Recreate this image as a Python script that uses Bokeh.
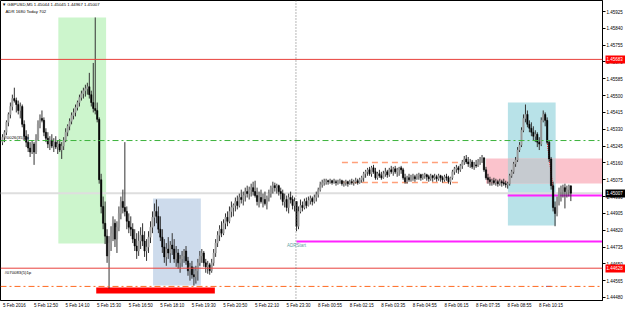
from bokeh.plotting import figure
from bokeh.models import Range1d, LinearAxis, FixedTicker, Label, Span, NumeralTickFormatter, ColumnDataSource
from bokeh.embed import file_html
from bokeh.resources import INLINE

# ---------------- data (GBPUSD M5, bar index 0 = 5 Feb 11:30) ----------------
first_open = 1.45265
highs = [
 1.45305, 1.45325, 1.45375, 1.45415, 1.45465, 1.45505, 1.45540, 1.45490, 1.45475, 1.45465,
 1.45455, 1.45375, 1.45325, 1.45305, 1.45265, 1.45275, 1.45265, 1.45305, 1.45375, 1.45405,
 1.45425, 1.45390, 1.45335, 1.45315, 1.45295, 1.45305, 1.45285, 1.45295, 1.45275, 1.45280,
 1.45265, 1.45290, 1.45335, 1.45355, 1.45385, 1.45415, 1.45435, 1.45455, 1.45475, 1.45505,
 1.45525, 1.45540, 1.45555, 1.45565, 1.45615, 1.45525, 1.45665, 1.45895, 1.45465, 1.45390,
 1.45105, 1.44990, 1.44965, 1.44825, 1.44790, 1.44840, 1.44890, 1.44875, 1.44865, 1.44940,
 1.44990, 1.45025, 1.45265, 1.44940, 1.44905, 1.44890, 1.44855, 1.44825, 1.44805, 1.44815,
 1.44835, 1.44855, 1.44815, 1.44775, 1.44815, 1.44865, 1.44915, 1.44955, 1.44975, 1.44940,
 1.44890, 1.44825, 1.44775, 1.44755, 1.44785, 1.44765, 1.44805, 1.44775, 1.44740, 1.44725,
 1.44695, 1.44715, 1.44725, 1.44740, 1.44685, 1.44655, 1.44665, 1.44635, 1.44640, 1.44675,
 1.44715, 1.44725, 1.44715, 1.44675, 1.44665, 1.44655, 1.44675, 1.44725, 1.44775, 1.44815,
 1.44845, 1.44865, 1.44875, 1.44905, 1.44915, 1.44940, 1.44965, 1.44955, 1.44985, 1.44995,
 1.45005, 1.45025, 1.45015, 1.45035, 1.45045, 1.45040, 1.45055, 1.45065, 1.45070, 1.45035,
 1.45015, 1.45025, 1.45005, 1.45015, 1.44995, 1.45025, 1.45045, 1.45065, 1.45060, 1.45055,
 1.45050, 1.45035, 1.45025, 1.45005, 1.44995, 1.45005, 1.45015, 1.44995, 1.44985, 1.44965,
 1.44940, 1.44975, 1.44965, 1.44980, 1.44985, 1.44990, 1.44995, 1.44990, 1.45000, 1.45015,
 1.45035, 1.45065, 1.45075, 1.45080, 1.45080, 1.45075, 1.45080, 1.45075, 1.45080, 1.45075,
 1.45075, 1.45080, 1.45075, 1.45070, 1.45075, 1.45070, 1.45075, 1.45080, 1.45075, 1.45085,
 1.45080, 1.45085, 1.45095, 1.45115, 1.45125, 1.45135, 1.45140, 1.45145, 1.45150, 1.45135,
 1.45115, 1.45125, 1.45115, 1.45120, 1.45135, 1.45125, 1.45135, 1.45145, 1.45140, 1.45145,
 1.45135, 1.45140, 1.45145, 1.45135, 1.45105, 1.45095, 1.45105, 1.45100, 1.45105, 1.45100,
 1.45105, 1.45110, 1.45105, 1.45105, 1.45110, 1.45105, 1.45100, 1.45105, 1.45100, 1.45105,
 1.45100, 1.45105, 1.45100, 1.45095, 1.45100, 1.45105, 1.45095, 1.45090, 1.45125, 1.45140,
 1.45150, 1.45145, 1.45155, 1.45175, 1.45195, 1.45200, 1.45190, 1.45180, 1.45175, 1.45165,
 1.45175, 1.45180, 1.45190, 1.45200, 1.45190, 1.45140, 1.45105, 1.45090, 1.45080, 1.45085,
 1.45080, 1.45075, 1.45080, 1.45075, 1.45080, 1.45070, 1.45065, 1.45105, 1.45125, 1.45165,
 1.45190, 1.45240, 1.45265, 1.45340, 1.45405, 1.45455, 1.45425, 1.45375, 1.45365, 1.45345,
 1.45325, 1.45315, 1.45290, 1.45390, 1.45425, 1.45415, 1.45390, 1.45275, 1.45190, 1.45065,
 1.44965, 1.44990, 1.45035, 1.45045, 1.45050, 1.45055, 1.45045, 1.45050, 1.45045]
lows = [
 1.45250, 1.45265, 1.45300, 1.45345, 1.45385, 1.45425, 1.45465, 1.45415, 1.45405, 1.45385,
 1.45340, 1.45275, 1.45240, 1.45215, 1.45190, 1.45205, 1.45150, 1.45205, 1.45275, 1.45335,
 1.45365, 1.45295, 1.45265, 1.45235, 1.45225, 1.45235, 1.45215, 1.45230, 1.45205, 1.45215,
 1.45180, 1.45225, 1.45265, 1.45295, 1.45325, 1.45355, 1.45380, 1.45395, 1.45425, 1.45445,
 1.45475, 1.45485, 1.45495, 1.45505, 1.45485, 1.45445, 1.45415, 1.45405, 1.45365, 1.45055,
 1.44905, 1.44825, 1.44750, 1.44655, 1.44525, 1.44715, 1.44765, 1.44735, 1.44705, 1.44815,
 1.44875, 1.44905, 1.44890, 1.44825, 1.44805, 1.44790, 1.44755, 1.44715, 1.44675, 1.44690,
 1.44725, 1.44740, 1.44685, 1.44665, 1.44705, 1.44755, 1.44805, 1.44840, 1.44855, 1.44805,
 1.44765, 1.44705, 1.44655, 1.44640, 1.44675, 1.44655, 1.44695, 1.44655, 1.44635, 1.44625,
 1.44605, 1.44635, 1.44655, 1.44645, 1.44590, 1.44565, 1.44575, 1.44540, 1.44550, 1.44565,
 1.44640, 1.44655, 1.44635, 1.44605, 1.44600, 1.44595, 1.44605, 1.44640, 1.44685, 1.44735,
 1.44765, 1.44785, 1.44795, 1.44825, 1.44840, 1.44855, 1.44885, 1.44890, 1.44915, 1.44925,
 1.44935, 1.44955, 1.44945, 1.44965, 1.44985, 1.44975, 1.44990, 1.44995, 1.44985, 1.44945,
 1.44935, 1.44955, 1.44935, 1.44945, 1.44925, 1.44965, 1.44985, 1.45005, 1.45015, 1.45005,
 1.44995, 1.44975, 1.44945, 1.44935, 1.44915, 1.44905, 1.44955, 1.44925, 1.44915, 1.44815,
 1.44825, 1.44905, 1.44915, 1.44925, 1.44930, 1.44940, 1.44950, 1.44945, 1.44955, 1.44965,
 1.44985, 1.45015, 1.45035, 1.45045, 1.45050, 1.45050, 1.45055, 1.45050, 1.45055, 1.45045,
 1.45050, 1.45055, 1.45045, 1.45040, 1.45045, 1.45040, 1.45050, 1.45050, 1.45045, 1.45055,
 1.45050, 1.45055, 1.45060, 1.45065, 1.45085, 1.45095, 1.45095, 1.45090, 1.45105, 1.45075,
 1.45075, 1.45085, 1.45075, 1.45080, 1.45090, 1.45085, 1.45090, 1.45105, 1.45095, 1.45105,
 1.45090, 1.45095, 1.45105, 1.45075, 1.45055, 1.45055, 1.45065, 1.45065, 1.45070, 1.45065,
 1.45075, 1.45075, 1.45070, 1.45075, 1.45080, 1.45070, 1.45065, 1.45070, 1.45065, 1.45075,
 1.45065, 1.45070, 1.45065, 1.45060, 1.45065, 1.45070, 1.45055, 1.45050, 1.45075, 1.45100,
 1.45110, 1.45105, 1.45115, 1.45130, 1.45150, 1.45155, 1.45140, 1.45135, 1.45130, 1.45125,
 1.45135, 1.45140, 1.45150, 1.45160, 1.45115, 1.45075, 1.45055, 1.45045, 1.45045, 1.45050,
 1.45045, 1.45040, 1.45045, 1.45040, 1.45045, 1.45035, 1.45030, 1.45045, 1.45085, 1.45105,
 1.45140, 1.45165, 1.45215, 1.45240, 1.45315, 1.45365, 1.45340, 1.45315, 1.45295, 1.45275,
 1.45265, 1.45240, 1.45225, 1.45245, 1.45365, 1.45345, 1.45255, 1.45165, 1.45025, 1.44915,
 1.44840, 1.44890, 1.44945, 1.44965, 1.44985, 1.44930, 1.44985, 1.44990, 1.44967]
closes = [
 1.45290, 1.45315, 1.45365, 1.45405, 1.45445, 1.45485, 1.45475, 1.45455, 1.45425, 1.45445,
 1.45355, 1.45295, 1.45265, 1.45235, 1.45215, 1.45255, 1.45215, 1.45285, 1.45355, 1.45385,
 1.45375, 1.45315, 1.45285, 1.45255, 1.45275, 1.45245, 1.45265, 1.45240, 1.45255, 1.45225,
 1.45245, 1.45275, 1.45315, 1.45345, 1.45370, 1.45400, 1.45415, 1.45440, 1.45465, 1.45490,
 1.45510, 1.45525, 1.45535, 1.45545, 1.45505, 1.45465, 1.45435, 1.45425, 1.45380, 1.45075,
 1.44940, 1.44855, 1.44790, 1.44690, 1.44755, 1.44805, 1.44855, 1.44775, 1.44835, 1.44905,
 1.44965, 1.44935, 1.44915, 1.44865, 1.44835, 1.44825, 1.44775, 1.44740, 1.44715, 1.44765,
 1.44795, 1.44765, 1.44715, 1.44735, 1.44785, 1.44835, 1.44885, 1.44915, 1.44890, 1.44825,
 1.44785, 1.44735, 1.44685, 1.44725, 1.44705, 1.44745, 1.44725, 1.44675, 1.44705, 1.44655,
 1.44675, 1.44690, 1.44715, 1.44665, 1.44615, 1.44635, 1.44595, 1.44585, 1.44615, 1.44655,
 1.44690, 1.44705, 1.44655, 1.44635, 1.44645, 1.44615, 1.44655, 1.44705, 1.44755, 1.44795,
 1.44825, 1.44805, 1.44855, 1.44885, 1.44865, 1.44915, 1.44935, 1.44945, 1.44965, 1.44945,
 1.44985, 1.44975, 1.44995, 1.45015, 1.45005, 1.45025, 1.45035, 1.45015, 1.44995, 1.44965,
 1.44985, 1.44965, 1.44975, 1.44955, 1.44985, 1.45005, 1.45035, 1.45045, 1.45035, 1.45045,
 1.45015, 1.45005, 1.44965, 1.44975, 1.44935, 1.44985, 1.44975, 1.44945, 1.44965, 1.44840,
 1.44915, 1.44945, 1.44935, 1.44965, 1.44945, 1.44970, 1.44980, 1.44965, 1.44985, 1.45000,
 1.45025, 1.45050, 1.45060, 1.45065, 1.45070, 1.45065, 1.45070, 1.45060, 1.45065, 1.45060,
 1.45065, 1.45070, 1.45055, 1.45060, 1.45065, 1.45055, 1.45065, 1.45060, 1.45065, 1.45070,
 1.45060, 1.45075, 1.45085, 1.45105, 1.45115, 1.45125, 1.45105, 1.45135, 1.45115, 1.45085,
 1.45105, 1.45095, 1.45085, 1.45105, 1.45115, 1.45100, 1.45125, 1.45115, 1.45130, 1.45115,
 1.45125, 1.45135, 1.45125, 1.45085, 1.45065, 1.45085, 1.45075, 1.45085, 1.45090, 1.45080,
 1.45095, 1.45100, 1.45085, 1.45095, 1.45100, 1.45090, 1.45080, 1.45095, 1.45085, 1.45090,
 1.45080, 1.45095, 1.45085, 1.45075, 1.45090, 1.45085, 1.45065, 1.45085, 1.45115, 1.45130,
 1.45135, 1.45125, 1.45145, 1.45165, 1.45180, 1.45165, 1.45155, 1.45165, 1.45140, 1.45150,
 1.45145, 1.45165, 1.45175, 1.45185, 1.45125, 1.45085, 1.45075, 1.45065, 1.45070, 1.45060,
 1.45065, 1.45055, 1.45065, 1.45060, 1.45055, 1.45050, 1.45055, 1.45095, 1.45115, 1.45155,
 1.45175, 1.45225, 1.45250, 1.45325, 1.45385, 1.45405, 1.45355, 1.45335, 1.45315, 1.45295,
 1.45305, 1.45265, 1.45255, 1.45375, 1.45405, 1.45375, 1.45265, 1.45180, 1.45045, 1.44935,
 1.44905, 1.44965, 1.45015, 1.45025, 1.45035, 1.45015, 1.45025, 1.45044, 1.45007]
opens = [first_open] + closes[:-1]

time_label_bars = [0, 16, 32, 48, 64, 80, 96, 112, 128, 144, 160, 176, 192, 208, 224, 240, 256, 272]
time_labels = ["5 Feb 2016", "5 Feb 12:50", "5 Feb 14:10", "5 Feb 15:30", "5 Feb 16:50", "5 Feb 18:10",
               "5 Feb 19:30", "5 Feb 20:50", "5 Feb 22:10", "5 Feb 23:30", "8 Feb 00:55", "8 Feb 02:15",
               "8 Feb 03:35", "8 Feb 04:55", "8 Feb 06:15", "8 Feb 07:35", "8 Feb 08:55", "8 Feb 10:15"]
price_ticks = [1.44480, 1.44565, 1.44650, 1.44735, 1.44820, 1.44905, 1.44990, 1.45075, 1.45160,
               1.45245, 1.45330, 1.45415, 1.45500, 1.45585, 1.45670, 1.45755, 1.45840, 1.45925]

# chart objects
adr_start_bar = 149
red_levels = [1.45683, 1.44628]
green_level = 1.45273
orange_level = 1.44536
bid_price = 1.45007
magenta_low = 1.44763
magenta_mid = 1.44995
mid_line_bar = 256
range_left, range_right = 172, 231
range_levels = [1.45162, 1.45061]
zone_left = [28.3, 76.3, 256.1, 245.0]
zone_right = [52.5, 100.5, 280.3, 320.0]
zone_top = [1.45895, 1.44980, 1.45465, 1.45182]
zone_bottom = [1.44753, 1.44541, 1.44844, 1.45056]
zone_color = ["#ccf5cc", "#cddbec", "#b8e2e8", "#fbc3cc"]
red_bar = (47.5, 107.6, 1.44531, 1.44500)

# ---------------- figure ----------------
x0, x1 = -1.01, 304.04
y0, y1 = 1.444648, 1.459806
p = figure(width=625, height=311, x_range=Range1d(x0, x1), y_range=Range1d(y0, y1),
           output_backend="svg", toolbar_location=None,
           x_axis_location=None, y_axis_location=None,
           min_border_left=0, min_border_top=0, min_border_right=21, min_border_bottom=11)
p.grid.visible = False
p.outline_line_color = "#000000"
p.background_fill_color = "#ffffff"
p.border_fill_color = "#ffffff"

zsrc = ColumnDataSource(dict(left=zone_left, right=zone_right, top=zone_top, bottom=zone_bottom, color=zone_color))
zr = p.quad(left="left", right="right", top="top", bottom="bottom", fill_color="color", line_color=None, source=zsrc)
zr.level = "underlay"
ol = max(zone_left[2], zone_left[3]); orr = min(zone_right[2], zone_right[3])
ot = min(zone_top[2], zone_top[3]); ob = max(zone_bottom[2], zone_bottom[3])
ovr = p.quad(left=[ol], right=[orr], top=[ot], bottom=[ob], fill_color="#c6cbd0", line_color=None)
ovr.level = "underlay"
p.quad(left=[red_bar[0]], right=[red_bar[1]], top=[red_bar[2]], bottom=[red_bar[3]],
       fill_color="#ff0000", line_color=None)

for lv in red_levels:
    p.add_layout(Span(location=lv, dimension="width", line_color="#e8413c", line_width=1))
p.add_layout(Span(location=green_level, dimension="width", line_color="#3cb33c", line_width=1, line_dash="6 3 2 3"))
p.add_layout(Span(location=orange_level, dimension="width", line_color="#ff6a20", line_width=1, line_dash="6 3 2 3"))
bid = Span(location=bid_price, dimension="width", line_color="#dedede", line_width=2)
bid.level = "underlay"
p.add_layout(bid)
p.add_layout(Span(location=adr_start_bar - 0.3, dimension="height", line_color="#707070", line_width=1, line_dash="1 2"))
p.segment(x0=[adr_start_bar, mid_line_bar], y0=[magenta_low, magenta_mid], x1=[x1 + 5, x1 + 5],
          y1=[magenta_low, magenta_mid], line_color="#ff22ff", line_width=2)
p.segment(x0=[range_left, range_left], y0=range_levels, x1=[range_right, range_right], y1=range_levels,
          line_color="#ffa07a", line_width=1.5, line_dash="6 4")
p.segment(x0=[276], y0=[1.45265], x1=[279], y1=[1.45030], line_color="#ff0000", line_width=1, line_dash="1 1")
p.segment(x0=[275.5], y0=[orange_level], x1=[278], y1=[orange_level], line_color="#2020ff", line_width=1)

# candles
idx = list(range(len(closes)))
wick_hi = [max(h, o, c) for h, o, c in zip(highs, opens, closes)]
wick_lo = [min(l, o, c) for l, o, c in zip(lows, opens, closes)]
p.segment(x0=idx, y0=wick_lo, x1=idx, y1=wick_hi, line_color="#333333", line_width=1)
body_top = [max(o, c) for o, c in zip(opens, closes)]
body_bot = [min(o, c) for o, c in zip(opens, closes)]
body_col = ["#9a9a9a" if c >= o else "#000000" for o, c in zip(opens, closes)]
p.vbar(x=idx, width=0.7, top=body_top, bottom=body_bot, fill_color=body_col, line_color=body_col, line_width=0.5)

FONT = "Liberation Sans"

def quiet(ax):
    ax.minor_tick_out = 0
    ax.minor_tick_in = 0
    ax.major_tick_in = 0
    ax.major_label_text_font = FONT
    ax.major_label_text_font_size = "4.5px"

# price scale
ya = LinearAxis(ticker=FixedTicker(ticks=price_ticks), formatter=NumeralTickFormatter(format="0.00000"))
quiet(ya)
ya.major_tick_out = 3
ya.major_label_standoff = 1
ya.major_label_text_color = "#000000"
ya.axis_line_color = "#000000"
p.add_layout(ya, "right")

# price tags: coloured blocks drawn as inward ticks of outer, zero-size axes
tag_prices = [red_levels[0], bid_price, red_levels[1]]
for prices, bg in [([red_levels[0], red_levels[1]], "#ff0000"), ([bid_price], "#000000")]:
    bar_ax = LinearAxis(ticker=FixedTicker(ticks=prices))
    quiet(bar_ax)
    bar_ax.axis_line_color = None
    bar_ax.major_tick_out = 0
    bar_ax.major_tick_in = 20
    bar_ax.major_tick_line_width = 8
    bar_ax.major_tick_line_color = bg
    bar_ax.major_tick_line_cap = "butt"
    bar_ax.major_label_standoff = 0
    bar_ax.major_label_text_font_size = "0px"
    bar_ax.major_label_text_color = None
    p.add_layout(bar_ax, "right")
txt_ax = LinearAxis(ticker=FixedTicker(ticks=tag_prices), formatter=NumeralTickFormatter(format="0.00000"))
quiet(txt_ax)
txt_ax.axis_line_color = None
txt_ax.major_tick_out = 0
txt_ax.major_tick_line_color = None
txt_ax.major_label_standoff = -19
txt_ax.major_label_text_color = "#ffffff"
p.add_layout(txt_ax, "right")

# time scale
shift = 6
xa = LinearAxis(ticker=FixedTicker(ticks=[b + shift for b in time_label_bars]),
                major_label_overrides={b + shift: t for b, t in zip(time_label_bars, time_labels)})
quiet(xa)
xa.major_tick_out = 0
xa.major_label_standoff = 2
xa.major_label_text_color = "#000000"
xa.axis_line_color = "#000000"
p.add_layout(xa, "below")

# texts
common = dict(text_font=FONT, text_font_size="4.3px", text_color="#000000")
p.add_layout(Label(x=-0.3, y=y1, y_offset=-1, text="\u25BC GBPUSD,M5  1.45044 1.45045 1.44967 1.45007",
                   text_baseline="top", **common))
p.add_layout(Label(x=1.5, y=y1, y_offset=-8, text="ADR 1680  Today 702", text_baseline="top", **common))
p.add_layout(Label(x=1.0, y=green_level, y_offset=1, text="#0026(35)1p", text_baseline="bottom", **common))
p.add_layout(Label(x=1.0, y=red_levels[1], y_offset=-2, text="#070083(5)1p", text_baseline="top", **common))
p.add_layout(Label(x=adr_start_bar, y=magenta_low, y_offset=-2, text="ADRStart", text_baseline="top",
                   text_align="center", text_font=FONT, text_font_size="4.5px", text_color="#5f9ea0"))

open("out.html", "w").write(file_html(p, INLINE))
